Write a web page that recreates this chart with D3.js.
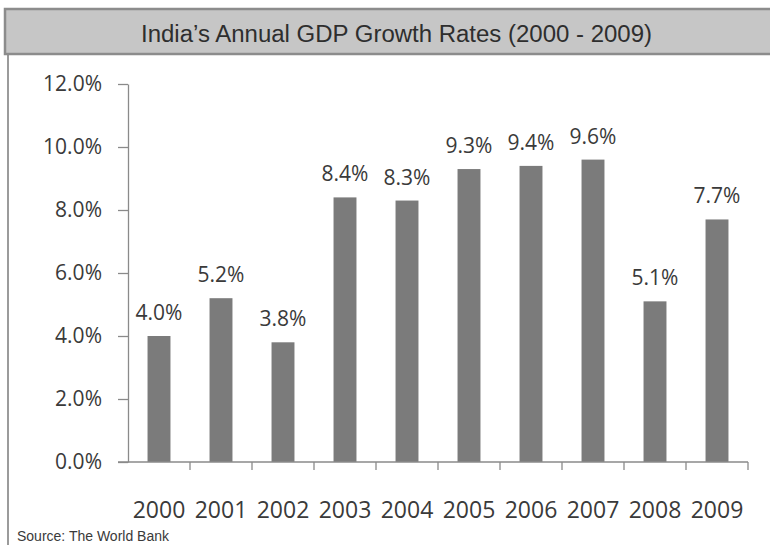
<!DOCTYPE html>
<html>
<head>
<meta charset="utf-8">
<script src="https://cdn.jsdelivr.net/npm/d3@7"></script>
<style>
  body { margin: 0; background: #fff; }
  svg { display: block; }
</style>
</head>
<body>
<svg id="chart" width="770" height="545"></svg>
<script>
// India's annual GDP growth, %
var years = ['2000', '2001', '2002', '2003', '2004', '2005', '2006', '2007', '2008', '2009']
var growth = [4.0, 5.2, 3.8, 8.4, 8.3, 9.3, 9.4, 9.6, 5.1, 7.7]
var yTicks = [0, 2, 4, 6, 8, 10, 12]

var svg = d3.select('#chart')

// title banner
svg.append('rect')
    .attr('x', 5).attr('y', 9)
    .attr('width', 780).attr('height', 45)
    .attr('fill', '#c6c6c6')
    .attr('stroke', '#8c8c8c')
    .attr('stroke-width', 2.5)

// narrow font not available, so squeeze a normal one to the same width
svg.append('text')
    .attr('x', 141).attr('y', 42)
    .attr('textLength', 511)
    .attr('lengthAdjust', 'spacingAndGlyphs')
    .attr('font-family', '"Liberation Sans", Arial, sans-serif')
    .attr('font-size', 23.5)
    .attr('fill', '#2e2e2e')
    .text('India\u2019s Annual GDP Growth Rates (2000 - 2009)')

// left frame line
svg.append('line')
    .attr('x1', 8).attr('x2', 8)
    .attr('y1', 55).attr('y2', 545)
    .attr('stroke', '#7a7a7a')
    .attr('stroke-width', 1.5)

var x = d3.scaleBand()
    .domain(years)
    .range([128, 748])
    .paddingInner(0.63)
    .paddingOuter(0.315)

var y = d3.scaleLinear()
    .domain([0, 12])
    .range([462, 84])

var axisColor = '#8a8a8a'
var textColor = '#3a3a3a'
var labelFont = '"Open Sans", "Noto Sans", sans-serif'

// y axis
var yAxis = svg.append('g')
    .attr('transform', 'translate(128,0)')
    .call(d3.axisLeft(y)
        .tickValues(yTicks)
        .tickSize(10)
        .tickSizeOuter(0)
        .tickPadding(16)
        .tickFormat(d => d.toFixed(1) + '%'))

yAxis.selectAll('path, line').attr('stroke', axisColor).attr('stroke-width', 1.3)
yAxis.selectAll('text')
    .attr('font-family', labelFont)
    .attr('font-size', 21)
    .attr('fill', textColor)

// bars
svg.selectAll('.bar')
    .data(years)
    .enter()
    .append('rect')
    .attr('class', 'bar')
    .attr('x', d => x(d))
    .attr('width', x.bandwidth())
    .attr('y', (d, i) => y(growth[i]))
    .attr('height', (d, i) => y(0) - y(growth[i]))
    .attr('fill', '#7b7b7b')

// value labels
svg.selectAll('.val')
    .data(years)
    .enter()
    .append('text')
    .attr('class', 'val')
    .attr('x', d => x(d) + x.bandwidth() / 2)
    .attr('y', (d, i) => y(growth[i]) - 16)
    .attr('text-anchor', 'middle')
    .attr('font-family', labelFont)
    .attr('font-size', 21)
    .attr('fill', textColor)
    .text((d, i) => growth[i].toFixed(1) + '%')

// x axis line + ticks at category boundaries
var xg = svg.append('g')
xg.append('line')
    .attr('x1', 118).attr('x2', 748)
    .attr('y1', y(0)).attr('y2', y(0))
    .attr('stroke', axisColor).attr('stroke-width', 1.3)

var bounds = years.map(d => x(d) + x.bandwidth() / 2 + x.step() / 2)
xg.selectAll('.xtick')
    .data(bounds)
    .enter()
    .append('line')
    .attr('x1', d => d).attr('x2', d => d)
    .attr('y1', y(0)).attr('y2', y(0) + 8)
    .attr('stroke', axisColor).attr('stroke-width', 1.3)

xg.selectAll('.year')
    .data(years)
    .enter()
    .append('text')
    .attr('x', d => x(d) + x.bandwidth() / 2)
    .attr('y', 518)
    .attr('text-anchor', 'middle')
    .attr('font-family', labelFont)
    .attr('font-size', 23)
    .attr('fill', textColor)
    .text(d => d)

// source note
svg.append('text')
    .attr('x', 17).attr('y', 541)
    .attr('font-family', 'Arial, "Liberation Sans", sans-serif')
    .attr('font-size', 14)
    .attr('fill', textColor)
    .text('Source: The World Bank')
</script>
</body>
</html>
